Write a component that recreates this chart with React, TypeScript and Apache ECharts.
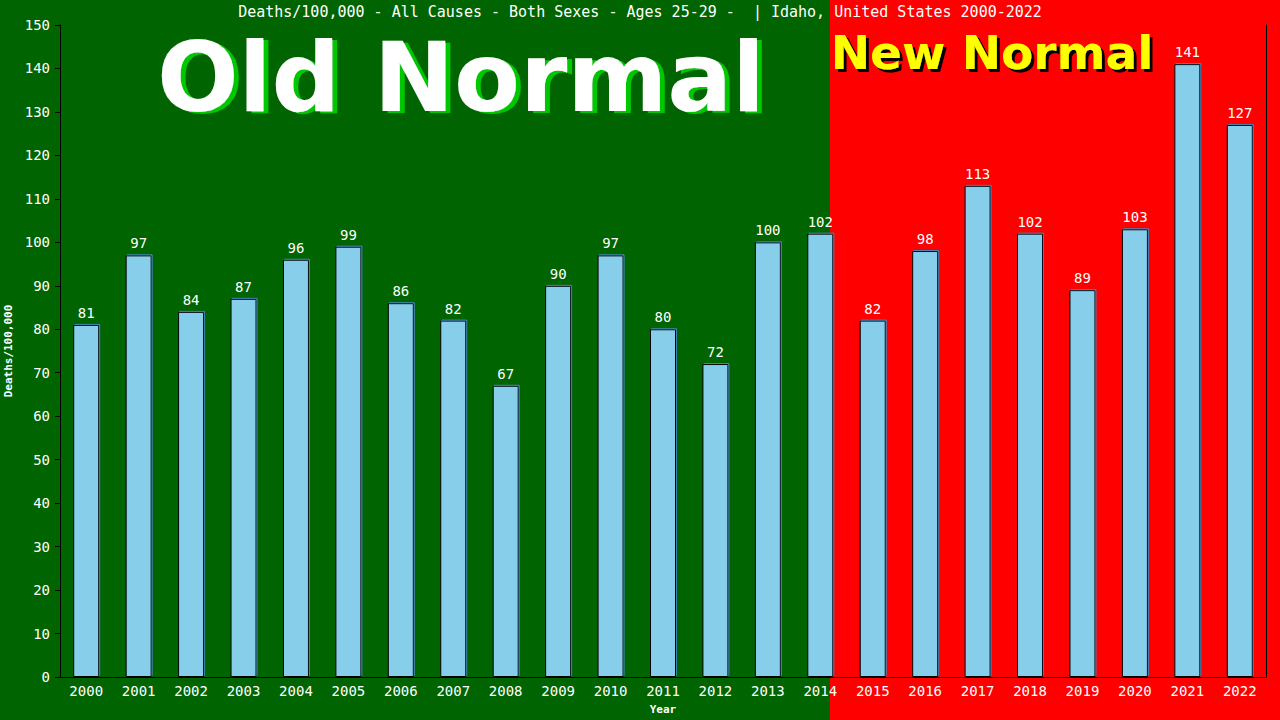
import { useEffect, useRef } from 'react'
import * as echarts from 'echarts'

const YEARS = ['2000', '2001', '2002', '2003', '2004', '2005', '2006', '2007', '2008', '2009', '2010', '2011',
  '2012', '2013', '2014', '2015', '2016', '2017', '2018', '2019', '2020', '2021', '2022']
const DEATHS = [81, 97, 84, 87, 96, 99, 86, 82, 67, 90, 97, 80, 72, 100, 102, 82, 98, 113, 102, 89, 103, 141, 127]

const TITLE = 'Deaths/100,000 - All Causes - Both Sexes - Ages 25-29 -  | Idaho, United States 2000-2022'
const MONO = '"DejaVu Sans Mono", "Liberation Mono", monospace'
const SANS = '"DejaVu Sans", Verdana, sans-serif'

export default function App() {
  const ref = useRef<HTMLDivElement>(null)

  useEffect(() => {
    if (!ref.current) return
    const chart = echarts.init(ref.current, undefined, { renderer: 'svg' })

    // big caption with a hard drop shadow
    const caption = (text: string, x: number, y: number, size: number, fill: string, shadow: string, dx: number, dy: number) => ({
      type: 'text', z: -4, x, y, silent: true,
      style: {
        text, fill, font: `bold ${size}px ${SANS}`,
        textAlign: 'center', textVerticalAlign: 'middle',
        shadowColor: shadow, shadowOffsetX: dx, shadowOffsetY: dy, shadowBlur: 0.5,
        textShadowColor: shadow, textShadowOffsetX: dx, textShadowOffsetY: dy, textShadowBlur: 0.5,
      },
    })

    chart.setOption({
      animation: false,
      backgroundColor: '#006400',
      title: {
        text: TITLE,
        left: 'center',
        top: 0,
        padding: [4, 0, 0, 0],
        textStyle: { color: '#fff', fontFamily: MONO, fontSize: 15, fontWeight: 'normal', lineHeight: 16 },
      },
      graphic: [
        { type: 'rect', z: -10, shape: { x: 0, y: 0, width: 830, height: 720 }, style: { fill: '#006400' }, silent: true },
        { type: 'rect', z: -10, shape: { x: 830, y: 0, width: 450, height: 720 }, style: { fill: '#ff0000' }, silent: true },
        caption('Old Normal', 461, 78, 96, '#ffffff', '#00c800', 5, 2),
        caption('New Normal', 992, 52, 47, '#ffff00', '#000000', 3, 3),
      ],
      grid: { left: 60, right: 14, top: 25, bottom: 43, outerBoundsMode: 'none', containLabel: false },
      xAxis: {
        type: 'category',
        data: YEARS,
        name: 'Year',
        nameLocation: 'middle',
        nameGap: 27,
        nameTextStyle: { color: '#fff', fontFamily: MONO, fontSize: 11, fontWeight: 'bold' },
        axisLine: { lineStyle: { color: '#000', width: 1 } },
        axisTick: { show: false },
        axisLabel: { color: '#fff', fontFamily: MONO, fontSize: 14, margin: 7, interval: 0 },
      },
      yAxis: [
        {
          type: 'value',
          min: 0,
          max: 150,
          interval: 10,
          name: 'Deaths/100,000',
          nameLocation: 'middle',
          nameGap: 44,
          nameTextStyle: { color: '#fff', fontFamily: MONO, fontSize: 11, fontWeight: 'bold' },
          axisLine: { show: true, lineStyle: { color: '#000', width: 1 } },
          axisTick: { show: true, length: 5, lineStyle: { color: '#000' } },
          axisLabel: { color: '#fff', fontFamily: MONO, fontSize: 14, margin: 10 },
          splitLine: { show: false },
        },
        {
          type: 'value',
          position: 'right',
          min: 0,
          max: 150,
          interval: 10,
          axisLine: { show: true, lineStyle: { color: '#000', width: 1 } },
          axisTick: { show: false },
          axisLabel: { show: false },
          splitLine: { show: false },
        },
      ],
      series: [
        {
          type: 'bar',
          data: DEATHS,
          barWidth: 26,
          itemStyle: {
            color: '#87ceeb',
            borderColor: '#000',
            borderWidth: 1,
            shadowColor: '#4682b4',
            shadowOffsetX: 1,
            shadowOffsetY: -1,
            shadowBlur: 0,
          },
          label: {
            show: true,
            position: 'top',
            distance: 5,
            color: '#fff',
            fontFamily: MONO,
            fontSize: 14,
          },
        },
      ],
    })

    return () => chart.dispose()
  }, [])

  return <div ref={ref} style={{ position: 'fixed', left: 0, top: 0, width: 1280, height: 720 }} />
}
